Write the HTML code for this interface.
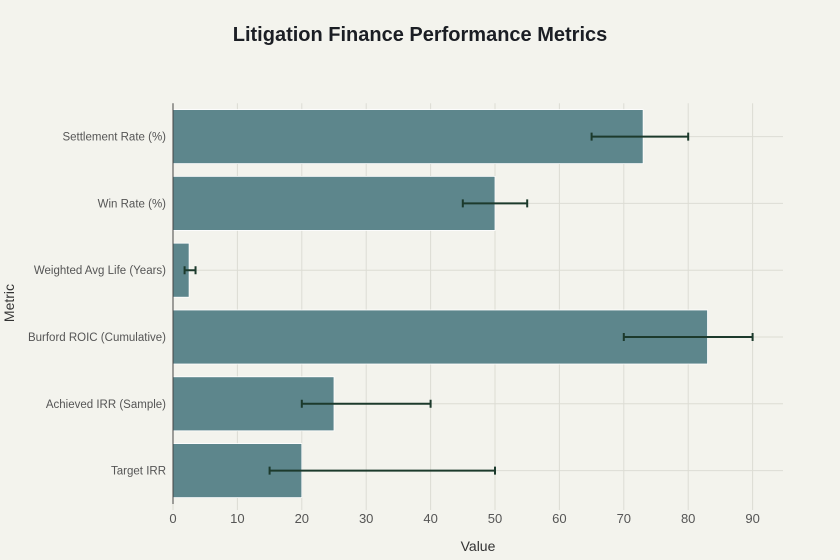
<!DOCTYPE html>
<html><head><meta charset="utf-8"><style>
body{margin:0;background:#f3f3ed;}
svg{display:block;font-family:"Liberation Sans",sans-serif;}
</style></head><body>
<svg id="c" width="840" height="560">
<rect width="840" height="560" fill="#f3f3ed"/>
<text x="420" y="41" text-anchor="middle" font-size="20" font-weight="bold" fill="#1b1e24">Litigation Finance Performance Metrics</text>
<g id="grid"></g><g id="bars"></g><g id="axes"></g>
<text x="478" y="551" text-anchor="middle" font-size="14" fill="#333">Value</text>
<text transform="translate(14,303) rotate(-90)" text-anchor="middle" font-size="14" fill="#333">Metric</text>
</svg>
<script>
const categories=["Settlement Rate (%)","Win Rate (%)","Weighted Avg Life (Years)","Burford ROIC (Cumulative)","Achieved IRR (Sample)","Target IRR"];
const values=[73,50,2.5,83,25,20];
const errLow=[65,45,1.8,70,20,15];
const errHigh=[80,55,3.5,90,40,50];
const xTicks=[0,10,20,30,40,50,60,70,80,90];
const NS="http://www.w3.org/2000/svg";
const x0=173,pxPer=6.44,yTop=103.2,band=66.8,xEnd=783;
const X=v=>x0+v*pxPer;
const Y=i=>yTop+band*i+band/2;
function mk(p,t,a){const e=document.createElementNS(NS,t);for(const k in a)e.setAttribute(k,a[k]);p.appendChild(e);return e;}
const g=document.getElementById('grid'),b=document.getElementById('bars'),ax=document.getElementById('axes');
const yBottom=yTop+band*categories.length;
xTicks.forEach(t=>{
 const l=mk(g,'line',{x1:X(t),x2:X(t),y1:yTop,y2:yBottom+6,stroke:'#dcdcd4','stroke-width':1});
 
 
 const tx=mk(ax,'text',{x:X(t),y:yBottom+19,'text-anchor':'middle','font-size':13,fill:'#555'});
 tx.textContent=t;
 
 
});
categories.forEach((c,i)=>{
 const gl=mk(g,'line',{x1:x0,x2:xEnd,y1:Y(i),y2:Y(i),stroke:'#dcdcd4','stroke-width':1});
 
 
 const r=mk(b,'rect',{x:x0,y:Y(i)-27,width:X(values[i])-x0,height:54,fill:'#5d868c',stroke:'#ffffff','stroke-width':0.8});
 
 
 const e=mk(b,'path',{d:`M${X(errLow[i])},${Y(i)}H${X(errHigh[i])}M${X(errLow[i])},${Y(i)-4}v8M${X(errHigh[i])},${Y(i)-4}v8`,stroke:'#1c3a2c','stroke-width':2,fill:'none'});
 
 
 const t=mk(ax,'text',{x:x0-7,y:Y(i)+4,'text-anchor':'end','font-size':11.5,fill:'#555'});
 t.textContent=c;
 
 
});
const yl=mk(ax,'line',{x1:x0,x2:x0,y1:yTop,y2:yBottom,stroke:'#444','stroke-width':1});


</script>
</body></html>
